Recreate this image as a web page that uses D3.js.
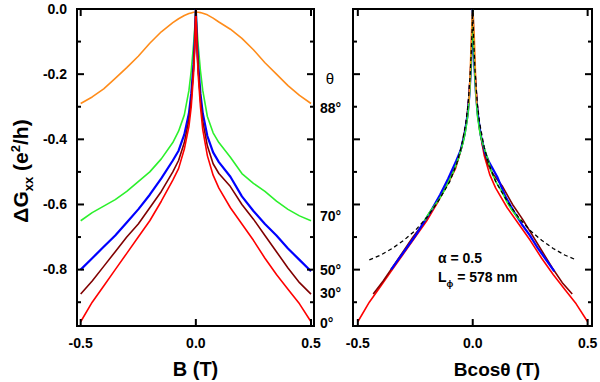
<!DOCTYPE html>
<html lang="en">
<head>
    <meta charset="UTF-8">
    <title>Weak antilocalization vs tilt angle</title>
    <script src="https://d3js.org/d3.v7.min.js"></script>
</head>

<style>
    body {
        margin: 0;
        padding: 0;
        background: #fff;
    }

    svg text {
        font-family: "Liberation Sans", Arial, sans-serif;
        font-weight: bold;
        fill: #000;
    }

    .curve {
        fill: none;
        stroke-linejoin: round;
    }
</style>

<body>
<div class="chart"></div>

<script>
  /** DATA **/
  /** field values shared by every measured trace (T) */
  var fieldB = [-0.5, -0.45, -0.4, -0.35, -0.3, -0.25, -0.2, -0.15, -0.1, -0.075, -0.05, -0.03, -0.02, -0.01, -0.005,
    0,
    0.005, 0.01, 0.02, 0.03, 0.05, 0.075, 0.1, 0.15, 0.2, 0.25, 0.3, 0.35, 0.4, 0.45, 0.5];

  /** delta Gxx (e^2/h) for each tilt angle */
  var dG88 = [-0.29, -0.27, -0.245, -0.213, -0.18, -0.145, -0.105, -0.07, -0.042, -0.03, -0.02, -0.014, -0.012, -0.01, -0.01,
    -0.01,
    -0.01, -0.01, -0.011, -0.013, -0.018, -0.028, -0.04, -0.062, -0.09, -0.125, -0.165, -0.2, -0.235, -0.265, -0.29];
  var dG70 = [-0.65, -0.625, -0.605, -0.585, -0.56, -0.53, -0.50, -0.46, -0.41, -0.375, -0.325, -0.25, -0.19, -0.11, -0.06,
    0,
    -0.06, -0.11, -0.19, -0.25, -0.33, -0.38, -0.41, -0.455, -0.505, -0.535, -0.56, -0.59, -0.615, -0.635, -0.65];
  var dG50 = [-0.80, -0.765, -0.73, -0.695, -0.655, -0.615, -0.57, -0.52, -0.465, -0.435, -0.385, -0.32, -0.26, -0.17, -0.10,
    0,
    -0.10, -0.17, -0.26, -0.32, -0.39, -0.44, -0.47, -0.515, -0.575, -0.62, -0.66, -0.695, -0.735, -0.77, -0.805];
  var dG30 = [-0.875, -0.835, -0.79, -0.745, -0.70, -0.66, -0.61, -0.56, -0.50, -0.465, -0.41, -0.34, -0.28, -0.18, -0.11,
    0,
    -0.11, -0.18, -0.28, -0.345, -0.42, -0.475, -0.505, -0.545, -0.60, -0.645, -0.695, -0.745, -0.795, -0.84, -0.875];
  var dG0 = [-0.96, -0.90, -0.85, -0.80, -0.75, -0.70, -0.65, -0.59, -0.525, -0.49, -0.43, -0.36, -0.30, -0.20, -0.12,
    0,
    -0.12, -0.20, -0.30, -0.37, -0.45, -0.51, -0.55, -0.61, -0.66, -0.71, -0.765, -0.815, -0.86, -0.905, -0.96];

  var angleLabels = ['88°', '70°', '50°', '30°', '0°'];
  /** cos(theta) as it appears from the extent of each trace in the right panel */
  var cosTheta = [0.035, 0.42, 0.71, 0.866, 1.0];
  var traceColors = ['#ff8c1a', '#2cf02c', '#0000ff', '#800000', '#ff0000'];

  /** HLN fit (alpha = 0.5, L_phi = 578 nm), dashed line in right panel */
  var fitB = [-0.45, -0.4, -0.35, -0.3, -0.25, -0.2, -0.15, -0.1, -0.07, -0.05, -0.03, -0.02, -0.01, -0.005, -0.002,
    0,
    0.002, 0.005, 0.01, 0.02, 0.03, 0.05, 0.07, 0.1, 0.15, 0.2, 0.25, 0.3, 0.35, 0.4, 0.45];
  var fitG = [-0.77, -0.755, -0.735, -0.71, -0.68, -0.64, -0.59, -0.53, -0.475, -0.425, -0.35, -0.29, -0.19, -0.11, -0.05,
    0,
    -0.05, -0.11, -0.19, -0.29, -0.35, -0.425, -0.475, -0.53, -0.59, -0.64, -0.68, -0.71, -0.735, -0.755, -0.77];

  var yMajorTicks = [0, -0.2, -0.4, -0.6, -0.8];
  var yMinorTicks = [-0.1, -0.3, -0.5, -0.7, -0.9];
  var xTicks = [-0.5, 0, 0.5];

  var traces = [dG88, dG70, dG50, dG30, dG0];

  /** LAYOUT */
  var plotTop = 9;
  var plotBottom = 326;
  var majorLen = 7;
  var minorLen = 4;
  var leftPanel = { x0: 77, x1: 314, domain: [-0.516, 0.513] };
  var rightPanel = { x0: 353, x1: 592, domain: [-0.521, 0.519] };

  var svg_selection = d3.select('.chart')
    .append('svg')
    .attr('width', 600)
    .attr('height', 382);

  var yScale = d3.scaleLinear()
    .domain([-0.973, 0])
    .range([plotBottom, plotTop]);

  var fmt = function (d) { return d.toFixed(1); };

  /** frames first, straight onto the svg (same way as the plain test that rendered) */
  [leftPanel, rightPanel].forEach(function (panel) {
    svg_selection.append('rect')
      .attr('x', panel.x0)
      .attr('y', plotTop)
      .attr('width', panel.x1 - panel.x0)
      .attr('height', plotBottom - plotTop)
      .attr('fill', 'none')
      .attr('stroke', 'black')
      .attr('stroke-width', 2);
  });

  /** x scale + clipped plotting group + tick labels/marks for one panel */
  function buildPanel(panel, name, showYLabels) {
    var xScale = d3.scaleLinear()
      .domain(panel.domain)
      .range([panel.x0, panel.x1]);

    svg_selection.append('clipPath')
      .attr('id', 'clip-' + name)
      .append('rect')
      .attr('x', panel.x0)
      .attr('y', plotTop)
      .attr('width', panel.x1 - panel.x0)
      .attr('height', plotBottom - plotTop);

    var plot = svg_selection.append('g').attr('clip-path', 'url(#clip-' + name + ')');

    /** inward tick marks */
    [[yMajorTicks, majorLen], [yMinorTicks, minorLen]].forEach(function (set) {
      set[0].forEach(function (v) {
        svg_selection.append('line')
          .attr('x1', panel.x0).attr('x2', panel.x0 + set[1])
          .attr('y1', yScale(v)).attr('y2', yScale(v))
          .attr('stroke', 'black').attr('stroke-width', 2);
        svg_selection.append('line')
          .attr('x1', panel.x1).attr('x2', panel.x1 - set[1])
          .attr('y1', yScale(v)).attr('y2', yScale(v))
          .attr('stroke', 'black').attr('stroke-width', 2);
      });
    });
    xTicks.forEach(function (v) {
      svg_selection.append('line')
        .attr('x1', xScale(v)).attr('x2', xScale(v))
        .attr('y1', plotBottom).attr('y2', plotBottom - majorLen)
        .attr('stroke', 'black').attr('stroke-width', 2);
      svg_selection.append('line')
        .attr('x1', xScale(v)).attr('x2', xScale(v))
        .attr('y1', plotTop).attr('y2', plotTop + majorLen)
        .attr('stroke', 'black').attr('stroke-width', 2);
    });

    /** tick labels */
    if (showYLabels) {
      yMajorTicks.forEach(function (v) {
        svg_selection.append('text')
          .attr('x', panel.x0 - 10)
          .attr('y', yScale(v))
          .attr('dy', '.34em')
          .attr('text-anchor', 'end')
          .style('font-size', '14px')
          .text(fmt(v));
      });
    }
    xTicks.forEach(function (v) {
      svg_selection.append('text')
        .attr('x', xScale(v))
        .attr('y', plotBottom + 12)
        .attr('dy', '.71em')
        .attr('text-anchor', 'middle')
        .style('font-size', '14px')
        .text(fmt(v));
    });

    return { x: xScale, plot: plot };
  }

  var leftP = buildPanel(leftPanel, 'left', true);
  var rightP = buildPanel(rightPanel, 'right', false);

  /** LEFT PANEL: delta G vs B */
  var lineLeft = d3.line()
    .x(function (d) { return leftP.x(d[0]); })
    .y(function (d) { return yScale(d[1]); });

  traces.forEach(function (vals, i) {
    leftP.plot.append('path')
      .classed('curve', true)
      .attr('d', lineLeft(vals.map(function (v, j) { return [fieldB[j], v]; })))
      .attr('stroke', traceColors[i])
      .attr('stroke-width', i === 2 ? 2.2 : 1.6);
  });

  /** RIGHT PANEL: delta G vs B cos(theta), drawn from 0 deg up */
  var lineRight = d3.line()
    .x(function (d) { return rightP.x(d[0]); })
    .y(function (d) { return yScale(d[1]); });

  [4, 3, 2, 1, 0].forEach(function (k) {
    rightP.plot.append('path')
      .classed('curve', true)
      .attr('d', lineRight(traces[k].map(function (v, j) { return [fieldB[j] * cosTheta[k], v]; })))
      .attr('stroke', traceColors[k])
      .attr('stroke-width', k === 2 ? 2.2 : 1.6);
  });

  rightP.plot.append('path')
    .classed('curve', true)
    .attr('d', lineRight(fitB.map(function (b, i) { return [b, fitG[i]]; })))
    .attr('stroke', '#000')
    .attr('stroke-width', 1.3)
    .attr('stroke-dasharray', '4,3');

  /** angle labels between the panels */
  var labelNudge = [4, -5, -1, -1, 1];
  angleLabels.forEach(function (lab, i) {
    svg_selection.append('text')
      .attr('x', 320)
      .attr('y', yScale(traces[i][traces[i].length - 1]) + labelNudge[i])
      .attr('dy', '.36em')
      .style('font-size', '14px')
      .text(lab);
  });

  svg_selection.append('text')
    .attr('x', 330)
    .attr('y', 79)
    .attr('dy', '.36em')
    .attr('text-anchor', 'middle')
    .style('font-size', '15px')
    .style('font-weight', 'normal')
    .text('θ');

  /** fit parameters */
  svg_selection.append('text')
    .attr('x', 438)
    .attr('y', 263)
    .style('font-size', '14px')
    .text('α = 0.5');

  var lphi = svg_selection.append('text')
    .attr('x', 438)
    .attr('y', 282)
    .style('font-size', '14px');
  lphi.append('tspan').text('L');
  lphi.append('tspan').attr('dy', 5).style('font-size', '9px').text('ϕ');
  lphi.append('tspan').attr('dy', -5).text(' = 578 nm');

  /** axis titles */
  svg_selection.append('text')
    .attr('x', (leftPanel.x0 + leftPanel.x1) / 2)
    .attr('y', 376)
    .attr('text-anchor', 'middle')
    .style('font-size', '20px')
    .text('B (T)');

  svg_selection.append('text')
    .attr('x', 497)
    .attr('y', 376)
    .attr('text-anchor', 'middle')
    .style('font-size', '19px')
    .text('Bcosθ (T)');

  var yTitle = svg_selection.append('text')
    .attr('transform', 'translate(28,171) rotate(-90)')
    .attr('text-anchor', 'middle')
    .style('font-size', '21px');
  yTitle.append('tspan').text('ΔG');
  yTitle.append('tspan').attr('dy', 5).style('font-size', '13px').text('xx');
  yTitle.append('tspan').attr('dy', -5).text(' (e');
  yTitle.append('tspan').attr('dy', -8).style('font-size', '13px').text('2');
  yTitle.append('tspan').attr('dy', 8).text('/h)');
</script>
</body>
</html>
